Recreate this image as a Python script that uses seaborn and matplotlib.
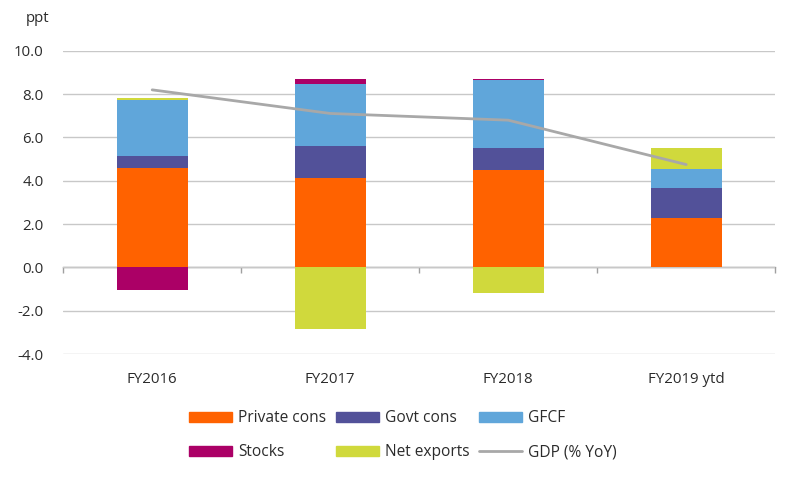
import numpy as np
import pandas as pd
import matplotlib
matplotlib.use("Agg")
import matplotlib.pyplot as plt
import matplotlib.patches as mpatches
import matplotlib.lines as mlines
import seaborn as sns

years = ["FY2016", "FY2017", "FY2018", "FY2019 ytd"]
private_cons = [4.6, 4.15, 4.52, 2.28]
govt_cons = [0.55, 1.45, 0.99, 1.41]
gfcf = [2.6, 2.87, 3.13, 0.85]
stocks = [-1.03, 0.21, 0.05, 0.0]
net_exports = [0.06, -2.86, -1.16, 0.97]
gdp = [8.2, 7.11, 6.8, 4.75]

series = [
    ("Private cons", private_cons, "#FF6200"),
    ("Govt cons", govt_cons, "#525199"),
    ("GFCF", gfcf, "#60A6DA"),
    ("Stocks", stocks, "#AB0066"),
    ("Net exports", net_exports, "#D0D93C"),
]

sns.set_style("white")
plt.rcParams["font.family"] = ["Open Sans", "DejaVu Sans"]
text_col = "#2b2b2b"

fig = plt.figure(figsize=(8, 4.8), dpi=100)
ax = fig.add_axes([0.079, 0.2625, 0.89, 0.6315])

pos_base = np.zeros(len(years))
neg_base = np.zeros(len(years))
for name, vals, col in series:
    vals = np.array(vals, dtype=float)
    bottom = np.where(vals >= 0, pos_base, neg_base)
    df = pd.DataFrame({"year": years, "val": vals})
    sns.barplot(data=df, x="year", y="val", bottom=bottom, color=col,
                width=0.4, errorbar=None, saturation=1, ax=ax,
                linewidth=0, edgecolor="none", zorder=3)
    pos_base = pos_base + np.where(vals >= 0, vals, 0)
    neg_base = neg_base + np.where(vals < 0, vals, 0)

gdp_df = pd.DataFrame({"pos": np.arange(len(years)), "gdp": gdp})
sns.lineplot(data=gdp_df, x="pos", y="gdp", color="#A8A8A8", linewidth=2,
             ax=ax, zorder=4)

ax.set_xlim(-0.5, len(years) - 0.5)
ax.set_ylim(-4, 10)
ax.set_yticks(np.arange(-4, 11, 2))
ax.set_yticklabels([f"{v:.1f}" for v in np.arange(-4, 11, 2)])
ax.set_xticks(range(len(years)))
ax.set_xticklabels(years)
ax.set_xlabel("")
ax.set_ylabel("")
ax.grid(axis="y", color="#C8C8C8", linewidth=1, zorder=0)
ax.grid(axis="x", visible=False)
for s in ax.spines.values():
    s.set_visible(False)
ax.tick_params(axis="both", length=0, labelsize=10.8, labelcolor=text_col)
ax.tick_params(axis="y", pad=14)
ax.tick_params(axis="x", pad=13)

# zero line with category separators
sec = ax.secondary_xaxis(4 / 14)
sec.set_xticks(np.arange(-0.5, len(years), 1.0))
sec.set_xticklabels([])
sec.tick_params(direction="out", length=4, color="#A0A0A0", width=1)
sec.spines["bottom"].set_color("#A0A0A0")
sec.spines["bottom"].set_linewidth(1)
sec.spines["top"].set_visible(False)
sec.xaxis.set_ticks_position("bottom")

fig.text(0.032, 0.962, "ppt", fontsize=10.8, color=text_col, ha="left", va="center")

handles = {name: mpatches.Patch(color=col, label=name) for name, _, col in series}
handles["GDP (% YoY)"] = mlines.Line2D([], [], color="#A8A8A8", linewidth=2, label="GDP (% YoY)")
order = ["Private cons", "Stocks", "Govt cons", "Net exports", "GFCF", "GDP (% YoY)"]
leg = fig.legend([handles[k] for k in order], order, ncol=3, loc="center",
                 bbox_to_anchor=(0.504, 0.093), frameon=False, fontsize=11.2,
                 handlelength=2.75, handleheight=0.65, columnspacing=0.62,
                 handletextpad=0.4, labelspacing=1.15)
for t in leg.get_texts():
    t.set_color(text_col)

fig.savefig("out.png", dpi=100)
